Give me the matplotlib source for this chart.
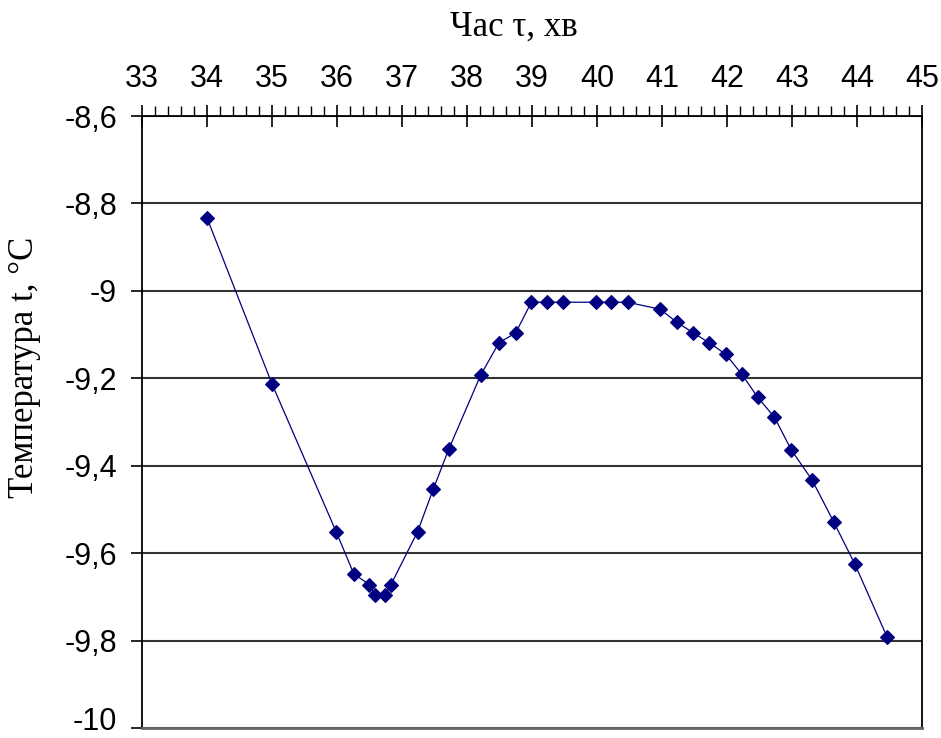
import matplotlib
matplotlib.use('Agg')
import matplotlib.pyplot as plt
import matplotlib.transforms as mtransforms
from matplotlib.ticker import MultipleLocator, FuncFormatter

# Час (хв) і температура (°C)
time_min = [34.0, 35.0, 35.99, 36.26, 36.50, 36.58, 36.74, 36.83, 37.24, 37.48,
            37.72, 38.21, 38.49, 38.75, 38.99, 39.23, 39.48, 39.98, 40.22, 40.47,
            40.97, 41.23, 41.48, 41.73, 41.98, 42.23, 42.47, 42.73, 42.99, 43.31,
            43.64, 43.97, 44.46]
temp_c = [-8.833, -9.213, -9.552, -9.648, -9.672, -9.695, -9.695, -9.672, -9.551, -9.454,
          -9.362, -9.193, -9.119, -9.096, -9.026, -9.026, -9.026, -9.026, -9.026, -9.026,
          -9.042, -9.072, -9.096, -9.119, -9.145, -9.191, -9.243, -9.289, -9.364, -9.433,
          -9.528, -9.626, -9.791]

sans = 'Liberation Sans'
serif = 'Liberation Serif'

fig = plt.figure(figsize=(9.41, 7.38), dpi=100, facecolor='white')
ax = fig.add_axes([0.1509, 0.0136, 0.8289, 0.8292])

ax.plot(time_min, temp_c, '-', color='#000080', linewidth=0.9,
        marker='D', markersize=7, markerfacecolor='#000080',
        markeredgecolor='#000080', markeredgewidth=0.8, zorder=3)

ax.set_xlim(33, 45)
ax.set_ylim(-10, -8.6)

# Вісь часу зверху
ax.xaxis.tick_top()
ax.xaxis.set_label_position('top')
ax.xaxis.set_major_locator(MultipleLocator(1))
ax.xaxis.set_minor_locator(MultipleLocator(0.2))
ax.yaxis.set_major_locator(MultipleLocator(0.2))
ax.yaxis.set_major_formatter(FuncFormatter(lambda v, p: f'{round(v, 1):g}'.replace('.', ',')))

ax.tick_params(axis='x', which='major', direction='inout', length=16, width=1.2,
               pad=8, labelsize=22, colors='black')
ax.tick_params(axis='x', which='minor', direction='out', length=7, width=1.0)
ax.tick_params(axis='y', which='major', direction='out', length=8, width=1.2,
               pad=10, labelsize=22)
ax.tick_params(axis='y', which='minor', left=False)
for lbl in ax.get_xticklabels() + ax.get_yticklabels():
    lbl.set_family(sans)

ax.grid(True, axis='y', color='#333333', linewidth=1.5)
ax.set_axisbelow(True)

for side in ['top', 'left', 'right']:
    ax.spines[side].set_color('black')
    ax.spines[side].set_linewidth(1.3)
ax.spines['bottom'].set_color('#666666')
ax.spines['bottom'].set_linewidth(2)

ax.set_xlabel('Час τ, хв', fontsize=25, family=serif, va='center')
ax.xaxis.set_label_coords(0.477, 1.145)
ax.set_ylabel('Температура t, °C', fontsize=25, family=serif, va='center', ha='center')
ax.yaxis.set_label_coords(-0.15, 0.59)

# підняти нижню мітку "-10", щоб не обрізалась
fig.canvas.draw()
for lbl in ax.get_yticklabels():
    if lbl.get_text() == '-10':
        lbl.set_transform(lbl.get_transform() +
                          mtransforms.ScaledTranslation(0, 9 / 100, fig.dpi_scale_trans))

plt.savefig('out.png', dpi=100, facecolor='white')
plt.close()
